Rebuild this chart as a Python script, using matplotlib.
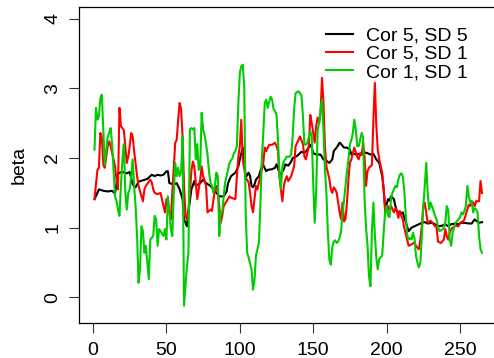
import matplotlib
matplotlib.use("Agg")
import matplotlib.pyplot as plt

plt.rcParams['font.family'] = ['Liberation Sans', 'DejaVu Sans']

series_labels = ["Cor 5, SD 5", "Cor 5, SD 1", "Cor 1, SD 1"]
series_colors = ["#000000", "#FF0000", "#00CD00"]

black_x = [1,3,4,7,10,13,15,17,20,23,25,27,29,31,34,37,40,42,44,46,48,50,51,52,55,57,59,61,62,64,65,67,69,70,73,75,77,80,82,84,86,89,91,92,94,97,99,100,102,103,104,106,107,108,109,110,111,113,115,116,118,119,122,124,125,127,128,130,131,133,135,136,139,141,142,144,146,148,149,150,152,155,157,159,161,163,164,166,168,169,171,173,175,176,177,179,181,183,185,187,189,191,193,195,197,198,199,200,201,202,203,205,206,207,208,209,211,214,215,217,219,222,224,226,228,231,233,235,238,240,242,244,247,249,251,253,256,258,260,261,263,265]
black_y = [1.41,1.50,1.55,1.53,1.52,1.53,1.49,1.78,1.80,1.78,1.80,1.62,1.58,1.66,1.68,1.70,1.76,1.74,1.76,1.75,1.76,1.81,1.81,1.64,1.62,1.64,1.55,1.41,1.12,1.02,1.23,1.55,1.67,1.60,1.64,1.69,1.64,1.60,1.55,1.50,1.45,1.45,1.52,1.64,1.74,1.79,1.88,1.98,2.15,1.98,1.72,1.79,1.74,1.60,1.58,1.62,1.69,1.74,1.88,1.90,1.81,1.83,1.84,1.86,1.91,1.79,1.77,1.84,1.91,1.89,1.95,2.00,2.03,2.07,2.09,2.07,2.12,2.19,2.15,2.07,2.05,2.05,1.98,1.96,1.93,1.98,2.10,2.15,2.22,2.20,2.15,2.15,2.12,2.05,2.07,2.05,2.06,2.05,2.08,2.07,2.05,2.06,1.98,1.93,1.74,1.55,1.31,1.33,1.41,1.39,1.45,1.41,1.31,1.24,1.22,1.20,1.22,1.02,0.95,1.00,1.02,1.05,1.07,1.08,1.06,1.07,1.05,1.02,1.03,1.05,1.02,1.05,1.06,1.05,1.07,1.07,1.06,1.06,1.12,1.10,1.07,1.08]

red_x = [1,3,4,5,6,7,8,10,11,12,14,15,16,17,18,19,21,22,23,24,25,26,27,28,30,31,33,34,35,36,39,40,41,42,44,46,48,49,50,51,52,53,54,56,57,58,59,60,61,62,63,64,65,66,67,68,69,70,71,73,74,75,77,78,80,81,83,84,85,86,87,88,89,91,93,94,97,98,99,100,101,102,104,106,107,108,109,110,111,112,114,115,116,117,118,119,120,122,124,125,126,127,128,129,130,131,132,133,134,135,137,138,140,141,143,144,145,146,147,148,149,150,151,152,153,154,155,156,157,158,159,160,161,162,163,164,165,166,167,168,169,170,171,172,173,174,175,176,177,178,180,181,182,183,184,185,186,187,188,190,191,192,193,194,195,197,198,199,200,201,202,203,205,206,207,208,209,210,211,212,214,215,217,219,220,222,223,224,225,226,227,228,230,232,233,234,235,237,239,240,241,242,243,244,245,247,249,250,252,253,255,256,257,258,259,260,261,263,264,265]
red_y = [1.41,1.83,1.86,2.36,2.30,1.90,1.86,2.17,2.24,2.17,1.98,1.88,1.69,1.55,2.72,2.46,2.40,2.17,1.93,2.02,2.17,2.36,2.31,2.10,1.74,1.60,1.45,1.38,1.55,1.60,1.69,1.65,1.55,1.50,1.48,1.50,1.31,1.22,1.41,1.31,1.22,1.12,1.50,2.22,2.26,2.55,2.79,2.70,2.31,1.60,1.17,1.12,1.26,1.50,1.81,1.95,1.88,1.65,1.41,1.69,1.88,1.74,1.60,1.22,1.26,1.24,1.55,1.60,1.50,1.31,1.07,1.17,1.31,1.38,1.45,1.43,1.41,1.74,2.02,2.17,2.55,1.98,1.72,1.65,1.50,1.31,1.22,1.41,1.60,1.55,1.74,1.83,1.93,2.15,2.10,2.15,2.19,2.19,2.22,2.17,2.10,1.74,1.55,1.38,1.60,1.69,1.74,1.67,1.70,1.74,1.88,2.17,2.26,2.31,2.20,2.02,1.98,2.07,2.17,2.62,2.50,2.36,2.22,2.45,2.58,2.50,2.65,3.15,2.79,2.17,1.88,1.79,1.70,1.55,1.50,1.58,1.55,1.50,1.36,1.22,1.12,1.36,1.09,1.12,1.36,1.69,1.93,1.98,2.07,2.15,2.02,1.98,2.07,2.04,2.22,2.02,1.60,1.81,1.86,1.90,2.55,3.08,2.46,2.12,1.98,1.79,1.55,1.22,1.24,1.31,1.24,1.31,1.22,1.28,1.24,1.14,1.24,1.17,1.12,1.00,0.83,0.74,0.76,0.79,0.74,0.69,0.83,1.02,1.31,1.36,1.22,1.07,1.10,1.05,1.02,1.02,0.80,0.78,0.83,0.98,0.88,0.83,0.93,0.98,1.00,1.03,1.02,1.07,1.09,1.12,1.26,1.33,1.31,1.38,1.36,1.31,1.38,1.38,1.67,1.50]

green_x = [1,2,3,4,5,6,7,8,9,10,11,12,13,14,15,16,17,18,19,20,21,22,23,24,25,26,27,28,29,30,31,32,33,34,35,36,37,38,39,41,42,43,44,45,46,48,49,50,51,52,53,54,55,56,57,58,59,60,61,62,63,64,65,66,67,68,69,70,71,72,73,74,75,76,77,78,79,80,81,82,83,84,85,86,87,88,89,90,91,93,95,96,97,98,99,100,101,102,103,104,105,106,108,109,110,111,112,113,114,115,116,117,118,119,120,121,122,123,124,125,126,127,128,129,130,132,134,135,136,137,138,140,142,143,144,145,146,147,148,149,150,151,152,153,154,155,156,157,158,159,160,161,162,163,164,165,166,167,168,169,170,171,172,173,174,175,176,177,178,179,180,181,182,183,184,185,186,187,188,189,190,191,192,193,194,195,197,198,199,200,201,202,203,204,206,207,208,209,210,211,212,213,214,215,216,217,218,219,220,221,222,223,224,225,226,227,228,229,230,231,232,233,234,235,236,238,239,240,241,242,243,244,245,246,247,249,250,251,252,253,254,255,256,257,258,259,260,261,262,263,264,265]
green_y = [2.12,2.72,2.55,2.60,2.86,2.91,2.41,1.90,2.10,2.31,2.36,2.43,2.20,1.83,1.45,1.38,1.26,1.17,1.60,1.98,2.20,1.50,1.26,1.50,1.55,1.74,1.98,1.60,1.31,0.88,0.21,0.40,1.02,0.95,0.64,0.74,0.50,0.26,0.83,0.88,1.17,1.12,0.74,0.98,0.95,0.88,0.98,0.83,1.45,1.25,0.98,0.88,1.50,1.93,1.74,1.86,1.74,1.80,2.31,-0.12,0.16,0.45,0.64,2.41,2.43,2.41,2.43,1.98,2.20,1.83,1.86,2.65,2.41,2.33,2.20,2.05,1.80,1.65,1.60,1.50,1.60,1.79,1.74,0.88,1.22,1.22,1.45,1.65,1.74,1.93,2.00,2.07,2.10,2.17,2.79,3.22,3.32,3.34,3.03,1.20,0.64,0.57,0.40,0.11,0.25,0.60,0.69,0.78,1.31,1.98,2.36,2.79,2.84,2.72,2.81,2.88,2.84,2.70,2.67,2.62,2.26,1.79,1.55,1.88,1.95,2.02,2.02,2.05,2.31,2.70,2.93,2.96,2.90,2.60,2.20,2.19,2.22,2.30,2.39,2.30,1.65,1.07,1.50,2.40,2.50,2.70,2.84,2.40,1.85,1.50,0.93,0.54,0.47,0.72,0.80,0.82,0.78,0.80,0.86,0.95,1.20,1.40,1.60,1.80,1.98,2.19,2.26,2.36,2.55,2.41,2.17,2.17,2.26,2.36,2.30,1.40,1.00,0.75,0.30,0.16,0.95,1.36,0.90,0.57,0.40,0.55,0.60,0.93,1.22,1.31,1.17,1.15,1.41,1.50,1.60,1.58,1.69,1.76,1.78,1.74,1.55,1.20,0.90,0.83,0.85,0.83,0.93,0.85,0.60,0.50,0.43,0.50,0.88,1.31,1.60,1.93,1.50,1.26,1.36,1.30,1.24,1.17,1.12,1.02,0.95,0.97,1.00,1.08,1.31,1.25,0.83,0.74,0.93,1.00,1.07,1.12,1.15,1.22,1.19,1.24,1.31,1.60,1.45,1.36,1.38,1.22,1.28,1.26,1.22,0.88,0.69,0.64]

x_ticks = [0, 50, 100, 150, 200, 250]
y_ticks = [0, 1, 2, 3, 4]
y_label = "beta"

W, H = 494, 358
FS = 14
fig = plt.figure(figsize=(W / 100, H / 100), dpi=100)
ax_w = 497.5 - 79
ax = fig.add_axes([79 / W, (H - 323) / H, ax_w / W, (323 - 7) / H])

for xs, ys, c, lab in zip([black_x, red_x, green_x], [black_y, red_y, green_y],
                          series_colors, series_labels):
    ax.plot(xs, ys, color=c, lw=1.5, label=lab, solid_joinstyle='round')

ax.set_xlim(-9.56, 275.56)
ax.set_ylim(-0.368, 4.168)
ax.set_xticks(x_ticks)
ax.set_yticks(y_ticks)
ax.set_xticklabels([str(t) for t in x_ticks])
ax.set_yticklabels([str(t) for t in y_ticks], rotation=90, va='center')
ax.tick_params(axis='both', labelsize=FS, length=7.2, width=0.8, color='#333333')
ax.tick_params(axis='x', pad=6.5)
ax.tick_params(axis='y', pad=5.6)
for s in ax.spines.values():
    s.set_linewidth(0.9)
ax.set_ylabel(y_label, fontsize=FS)
ax.yaxis.set_label_coords((27.5 - 79) / ax_w, 0.5)

fig.legend(loc='upper left', bbox_to_anchor=(326 / W, 1 - 27 / H),
           frameon=False, fontsize=FS, handlelength=1.39, handletextpad=0.68,
           labelspacing=0.03, borderpad=0, borderaxespad=0)

fig.savefig("out.png", dpi=100)
